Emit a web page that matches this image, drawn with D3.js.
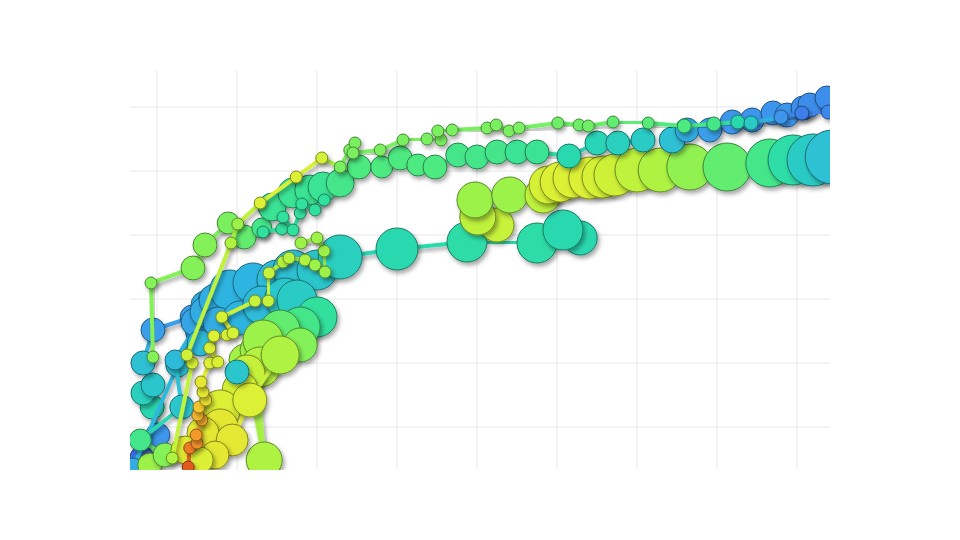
<!DOCTYPE html>
<html><head><meta charset="utf-8">
<script src="https://cdn.jsdelivr.net/npm/d3@7"></script>
<style>body{margin:0;background:#fff}svg{display:block}</style>
</head><body>
<svg id="chart" width="960" height="540"></svg>
<script>
// grid tick values
const xTicks = [10, 20, 30, 40, 50, 60, 70, 80, 90];
const yTicks = [16, 32, 48, 64, 80, 96];

// colour ramp (value stops and colours)
const colorStops = [22, 27, 31, 34, 38, 40, 42, 44, 47, 50, 54, 58, 62, 68, 74, 80];
const colorRange = ['#3b6fe6', '#3d96ec', '#2fb4e0', '#2cc6cc', '#2ad8b0', '#32e09e', '#44e68a', '#58eb78', '#7af060',
  '#9cf24a', '#bff23c', '#dcf034', '#eee030', '#f5b82e', '#f28a2a', '#e25a1e'];

// each point: [x, y, population, colourValue]
const seriesLeft = [[8.1,8.25,144,22],[10.1,14,144,27],[9.4,21,144,38],[8.25,24.5,144,36],[9.5,26.5,144,34],[8.25,32,144,33],[9.5,40.25,144,28],[14.4,43.5,144,28],[15.1,39.5,144,28]];
const seriesLeft2 = [[7,5.75,100,30],[12.6,31.5,144,33],[16,46.5,196,30]];
const seriesLeft3 = [[9.1,6.5,144,50],[11,9,144,48],[7.9,12.75,121,42],[13.1,21,144,34],[12.25,32.75,100,32],[16.9,47.75,196,30]];
const seriesBlue = [[14.75,42.25,196,29],[16,44.75,225,30],[17.25,47.75,256,30],[19.1,50.25,400,31],[22,52,400,31],[25,52.75,400,32],[27,55.25,400,33],[30,55.25,400,34],[32.9,58.5,484,36],[40,60.5,441,38],[48.75,62.25,400,39],[57.5,62,400,39],[62.9,63.25,289,38],[60.75,65.25,400,38]];
const seriesBlue2 = [[15.4,37,169,32],[17.6,42.25,225,30],[20.4,43.25,289,31],[23.1,46.5,361,32],[26,48.25,400,34],[27.5,47.75,400,35]];
const seriesLime = [[21,32.75,256,51],[23.4,7.75,324,52],[22.25,35.25,225,50]];
const seriesGreenYellow = [[30,43.5,400,40],[27.9,41,400,42],[25.4,40.25,400,45],[23.25,37.75,400,50],[22.9,31,400,53],[21.25,29.5,324,55],[20.4,25.25,324,57],[17.9,20.25,400,58],[17.9,16,324,60],[15.75,14.5,256,60],[13.5,10.25,196,59]];
const seriesYellowGreen2 = [[27.9,36.5,289,48],[25.4,34,361,52],[21.6,22.75,289,58],[19.4,12.75,256,60],[17.25,9,196,60],[15.4,7.75,169,58]];
const seriesTealDot = [[20,29.75,144,34]];
const seriesBig = [[52.5,66.5,289,55],[50.1,68.5,324,54],[49.75,72.75,324,50],[54.1,74,324,50],[58.25,74,324,54],[58.9,76.5,361,57],[60.4,77.25,400,58],[62,78.25,400,58],[64.1,78.25,441,58],[65.75,78.5,441,57],[67.25,79,441,56],[70,80.25,484,54],[72.9,80.25,484,52],[76.6,81,529,49],[81.25,81,576,45],[86.6,82,576,42],[89.5,82.75,625,39],[92,82.75,676,35],[94.4,83.5,729,33]];
const seriesMedium = [[9.5,33.5,36,48],[9.25,52,36,48],[14.5,55.75,144,48],[16,61.5,144,48],[18.9,67,121,47],[20.9,63.5,144,45],[23.1,65.75,100,42],[24.4,71,196,41],[27,74.5,225,41],[29.1,75.25,225,41],[30.75,76,225,41],[32.9,77,196,42],[35.25,81,144,43],[38.1,81,121,43],[40.4,83.25,144,43],[42.6,81.5,121,43],[44.75,81,144,43],[47.6,84,144,42],[50,83.5,144,42],[52.5,84.75,144,42],[55,84.75,144,41],[57.5,84.75,144,41],[61.5,83.75,144,38],[65,87,144,37],[67.6,87,144,36],[70.75,87.75,144,35],[74.4,87.75,169,33],[76.25,90.25,144,30],[79.1,90.25,144,28],[81.9,92.25,144,27],[84.4,92.75,144,27],[87,94.5,144,27],[88.75,94,144,27],[90.75,95.75,144,26],[91.6,96.5,144,26],[93.75,98.25,144,26]];
const seriesMint = [[23.25,64.75,36,40],[25.6,65.5,36,40],[25.75,68.5,36,40],[27,65.25,36,40],[27.9,69.5,36,40],[28.1,71.75,36,40],[29.75,70.25,36,40],[30.9,72.75,36,40]];
const seriesOrange = [[13.9,6,36,80],[14.1,10.75,36,76],[15,12,36,73],[14.9,14,36,72],[15.6,17.75,36,70],[15.1,19,36,68],[15.25,21,36,66],[16.1,22.75,36,62],[15.75,24.75,36,60],[15.5,27.25,36,60],[16.6,32,36,58],[17.6,32.25,36,58],[16.6,35.75,36,58],[17.1,38.75,36,58],[18.75,39,36,57],[19.5,39.5,36,57],[18.1,43.5,36,57],[22.25,47.5,36,55],[23.9,47.5,36,55],[24,54.5,36,55],[25.75,57.25,36,53],[26.5,58.25,36,53],[28.5,57.75,36,52],[29.75,56.5,36,50],[31,54.75,36,50],[30.9,60,36,50],[30,63.25,36,50],[28,62,36,50]];
const seriesTop = [[11.9,8.25,36,52],[14.4,32,36,57],[13.75,34,36,56],[19.25,62,36,52],[20.1,66.75,36,50],[22.9,72,36,58],[27.4,78.5,36,58],[30.6,83.25,36,57],[32.9,81,36,47],[34.1,85.25,36,47],[34.75,87,36,47],[34.5,84.5,36,47],[37.9,85.25,36,47],[40.75,87.75,36,47],[43.75,88,36,47],[45.5,87.75,36,47],[45.1,90,36,47],[46.9,90.25,36,47],[51.25,90.75,36,47],[52.4,91.5,36,47],[54,90,36,47],[55.25,90.75,36,47],[60.1,92,36,46],[62.75,91.5,36,46],[63.9,91.25,36,46],[67,92.25,36,45],[71.4,92,36,44],[75.9,91.25,49,43],[79.6,91.75,49,42],[82.6,92.25,49,38],[84.25,92,49,35],[88,93.5,49,27],[90.6,94.5,49,24],[93.9,94.75,49,25]];

const seriesOrder = [seriesLeft, seriesLeft2, seriesLeft3, seriesBlue, seriesBlue2, seriesLime,
  seriesGreenYellow, seriesYellowGreen2, seriesTealDot, seriesBig, seriesMedium, seriesMint,
  seriesOrange, seriesTop];

(function () {
const svg = d3.select('#chart');
const pLeft = 130, pRight = 830, pTop = 70, pBottom = 470;
const x = d3.scaleLinear().domain([6.625, 94.125]).range([pLeft, pRight]);
const y = d3.scaleLinear().domain([5.25, 105.25]).range([pBottom, pTop]);
const r = d3.scaleSqrt().domain([0, 900]).range([0, 30]);
const color = d3.scaleLinear().domain(colorStops).range(colorRange)
  .interpolate(d3.interpolateRgb).clamp(true);

const defs = svg.append('defs');
defs.append('clipPath').attr('id', 'clip').append('rect')
  .attr('x', pLeft).attr('y', pTop).attr('width', pRight - pLeft).attr('height', pBottom - pTop);
const f = defs.append('filter').attr('id', 'shadow')
  .attr('x', '-60%').attr('y', '-60%').attr('width', '220%').attr('height', '220%');
f.append('feDropShadow').attr('dx', 2).attr('dy', 3).attr('stdDeviation', 2)
  .attr('flood-color', '#000').attr('flood-opacity', 0.35);

// grid
const grid = svg.append('g');
grid.selectAll('line.vx').data(xTicks).join('line').attr('class', 'vx')
  .attr('x1', d => x(d)).attr('x2', d => x(d)).attr('y1', pTop).attr('y2', pBottom)
  .attr('stroke', '#e8e8e8').attr('stroke-width', 1);
grid.selectAll('line.hy').data(yTicks).join('line').attr('class', 'hy')
  .attr('x1', pLeft).attr('x2', pRight).attr('y1', d => y(d)).attr('y2', d => y(d))
  .attr('stroke', '#e8e8e8').attr('stroke-width', 1);

const plot = svg.append('g').attr('clip-path', 'url(#clip)');
seriesOrder.forEach(series => {
  const g = plot.append('g');
  const segs = d3.pairs(series);
  g.selectAll('line').data(segs).join('line')
    .attr('x1', d => x(d[0][0])).attr('y1', d => y(d[0][1]))
    .attr('x2', d => x(d[1][0])).attr('y2', d => y(d[1][1]))
    .attr('stroke', d => color((d[0][3] + d[1][3]) / 2))
    .attr('stroke-width', 4).attr('stroke-linecap', 'round')
    .attr('filter', 'url(#shadow)');
  g.selectAll('circle').data(series).join('circle')
    .attr('cx', d => x(d[0])).attr('cy', d => y(d[1])).attr('r', d => r(d[2]))
    .attr('fill', d => color(d[3]))
    .attr('stroke', d => d3.color(color(d[3])).darker(1.6))
    .attr('stroke-width', 1)
    .attr('filter', 'url(#shadow)');
});
})();
</script>
</body></html>
